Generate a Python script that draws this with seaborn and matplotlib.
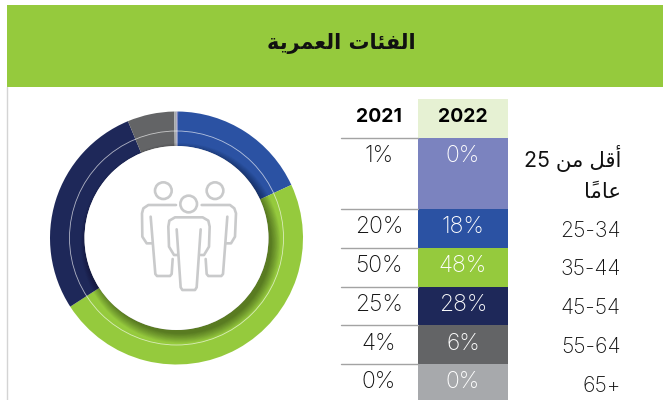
import matplotlib
matplotlib.use("Agg")
import pandas as pd
import seaborn as sns
import matplotlib.pyplot as plt
from matplotlib.colors import ListedColormap
from matplotlib.patches import Circle, Rectangle

# Arabic is written as presentation forms in visual order (matplotlib does no shaping)
title = "\ufe94\ufef3\ufeae\ufee4\ufecc\ufedf\ufe8d \ufe95\ufe8e\ufe8c\ufed4\ufedf\ufe8d"
under25_line1 = "25 \ufee6\ufee3 \ufede\ufed7\ufe83"
under25_line2 = "\ufe8e\u064b\ufee3\ufe8e\ufecb"

age_groups = [under25_line1, "25-34", "35-44", "45-54", "55-64", "65+"]
labels_2021 = ["1%", "20%", "50%", "25%", "4%", "0%"]
labels_2022 = ["0%", "18%", "48%", "28%", "6%", "0%"]
values_2022 = [0.2, 18, 48, 28, 6, 0.3]
colors = ["#7B83BF", "#2B52A3", "#95CA3D", "#1E2859", "#636466", "#A7A9AC"]

FONT = ["Inter", "DejaVu Sans"]
GREEN = "#95CA3D"
ICON = "#C9CACB"

sns.set_theme(style="white")
plt.rcParams["font.family"] = FONT

W, H = 663, 400
fig = plt.figure(figsize=(W / 100, H / 100), dpi=100)

# table rows for 2022, one heatmap cell per row because the first row is taller
row_edges = [138, 209, 248, 287, 325, 364, 400]
for i, v in enumerate(values_2022):
    top, bottom = row_edges[i], row_edges[i + 1]
    cell = fig.add_axes([418 / W, 1 - bottom / H, 90 / W, (bottom - top) / H])
    sns.heatmap(pd.DataFrame([[v]]), cmap=ListedColormap([colors[i]]), cbar=False,
                xticklabels=False, yticklabels=False, ax=cell)

# everything else is drawn on a full-figure axes in pixel units
ax = fig.add_axes([0, 0, 1, 1], zorder=5)
ax.patch.set_visible(False)

cx, cy = 176.5, 400 - 238
ax.pie(values_2022, colors=colors, startangle=90, counterclock=False, center=(cx, cy),
       radius=126.5, wedgeprops={"width": 34.5, "linewidth": 0})

# soft inner shadow, stronger to the lower right
for k in range(14):
    ax.add_patch(Circle((cx + 4, cy - 5), 100 - k * 0.7, fc="black", ec="none", alpha=0.03, zorder=3))
ax.add_patch(Circle((cx, cy), 92, fc="white", ec="none", zorder=4))
ax.add_patch(Circle((cx, cy), 107, fc="none", ec="white", lw=0.6, alpha=0.65, zorder=5))


def icon_xy(pts):
    # icon, in 3x crop coordinates
    return [p[0] / 3 + 30 for p in pts], [400 - (p[1] / 3 + 100) for p in pts]


for hx, hy, r in [(400, 272, 25), (555, 272, 25), (476, 312, 25)]:
    ax.add_patch(Circle((hx / 3 + 30, 400 - (hy / 3 + 100)), r / 3, fc="white", ec=ICON, lw=1.9, zorder=6))

icon_lines = [
    [(443, 465), (432, 465), (417, 440), (415, 380), (418, 362), (435, 352), (518, 352), (535, 362), (539, 380), (537, 440), (522, 465), (512, 465)],
    [(440, 388), (452, 562), (457, 570), (495, 570), (500, 562), (512, 388)],
    [(438, 315), (355, 315), (340, 325), (336, 340), (337, 410), (350, 430), (368, 430)],
    [(362, 350), (376, 522), (381, 528), (420, 528), (425, 522), (428, 477)],
    [(515, 315), (600, 315), (613, 325), (618, 340), (615, 410), (603, 430), (588, 430)],
    [(592, 350), (579, 522), (574, 528), (535, 528), (530, 522), (527, 477)],
]
for line in icon_lines:
    xs, ys = icon_xy(line)
    ax.plot(xs, ys, color=ICON, lw=1.9, solid_capstyle="round", solid_joinstyle="round", zorder=6)

# header band, left rule
ax.add_patch(Rectangle((7, 400 - 87), W, 82, fc=GREEN, ec="none"))
ax.plot([7, 7], [0, 400 - 87], color="#D4D4D4", lw=1)
ax.text(341, 400 - 44, title, ha="center", va="center", fontsize=15, fontweight="bold",
        color="#111111", family=["DejaVu Sans"])

# table header
ax.add_patch(Rectangle((418, 400 - 138), 90, 39, fc="#E6F1D3", ec="none"))
ax.text(379, 400 - 117, "2021", ha="center", va="center", fontsize=14, fontweight="bold", color="black")
ax.text(463, 400 - 117, "2022", ha="center", va="center", fontsize=14, fontweight="bold", color="black")

value_y = [156, 227, 266, 305, 344, 382]
label_y = [158, 231, 269, 308, 347, 386]
for i in range(6):
    ax.plot([341, 418], [400 - row_edges[i]] * 2, color="#A3A3A3", lw=1)
    ax.text(379, 400 - value_y[i], labels_2021[i], ha="center", va="center", fontsize=16.5,
            fontweight="light", color="#111111")
    ax.text(463, 400 - value_y[i], labels_2022[i], ha="center", va="center", fontsize=16.5,
            fontweight="light", color="white")
    # the first label carries Arabic, which only the regular DejaVu cut has
    ax.text(621, 400 - label_y[i], age_groups[i], ha="right", va="center", fontsize=15.3,
            fontweight="normal" if i == 0 else "light", color="#111111")
ax.text(621, 400 - 192, under25_line2, ha="right", va="center", fontsize=15.3, color="#111111")

ax.set_xlim(0, W)
ax.set_ylim(0, H)
ax.set_aspect("auto")
ax.axis("off")

fig.savefig("out.png", dpi=100)
